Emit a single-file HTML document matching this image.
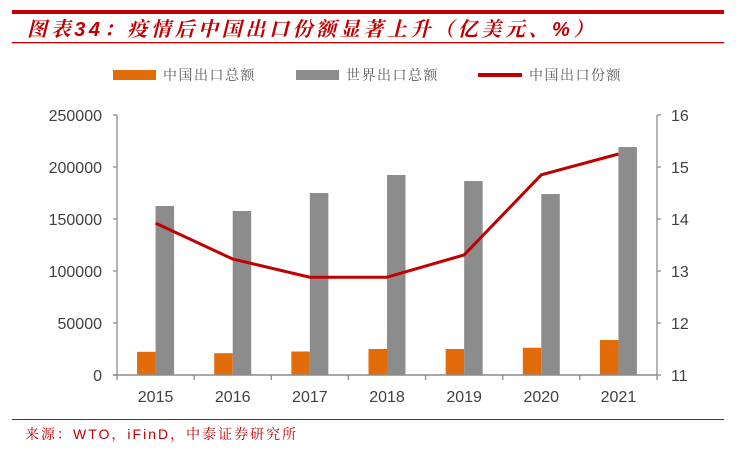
<!DOCTYPE html>
<html><head><meta charset="utf-8"><style>
html,body{margin:0;padding:0;background:#fff;}
body{width:739px;height:451px;overflow:hidden;position:relative;font-family:"Liberation Sans","Noto Sans CJK SC",sans-serif;}
</style></head><body>
<svg width="739" height="451" viewBox="0 0 739 451" xmlns="http://www.w3.org/2000/svg">
<rect x="12" y="10" width="712" height="4" fill="#c00000"/>
<text x="27" y="36" font-size="20" font-weight="bold" font-style="italic" fill="#c00000" letter-spacing="3.6" font-family="'Liberation Sans','Noto Serif CJK SC',serif">图表34：疫情后中国出口份额显著上升（亿美元、%）</text>
<rect x="12" y="42" width="712" height="1.3" fill="#c00000"/>
<g font-size="14" fill="#595959" letter-spacing="1.5" font-family="'Liberation Sans','Noto Serif CJK SC',serif">
<rect x="113" y="70" width="43" height="10" fill="#e36c0a"/>
<text x="163" y="80">中国出口总额</text>
<rect x="296" y="70" width="43" height="10" fill="#8c8c8c"/>
<text x="346" y="80">世界出口总额</text>
<rect x="478" y="73" width="44" height="4" fill="#c00000"/>
<text x="529" y="80">中国出口份额</text>
</g>
<g id="plot"></g>
<rect x="12" y="419" width="712" height="1" fill="#c00000"/>
<text x="25" y="439" font-size="14" fill="#c00000" letter-spacing="2" font-family="'Liberation Sans','Noto Serif CJK SC',serif">来源：WTO，iFinD，中泰证券研究所</text>
</svg>
<script>
const years=["2015","2016","2017","2018","2019","2020","2021"];
const chinaExports=[22300,21000,22600,25000,25000,26200,33600];
const worldExports=[162500,157700,175000,192300,186500,174000,219200];
const chinaShare=[13.92,13.23,12.88,12.88,13.31,14.85,15.25];
const leftTicks=[0,50000,100000,150000,200000,250000];
const rightTicks=[11,12,13,14,15,16];

const NS="http://www.w3.org/2000/svg";
const g=document.getElementById('plot');
const X0=117,X1=657,Y0=375,Y1=115;
const band=(X1-X0)/years.length;
const xc=i=>X0+band*(i+0.5);
const yL=v=>Y0-(v-0)/(250000-0)*(Y0-Y1);
const yR=v=>Y0-(v-11)/(16-11)*(Y0-Y1);
function mk(tag,attrs){const e=document.createElementNS(NS,tag);for(const k in attrs)e.setAttribute(k,attrs[k]);g.appendChild(e);return e;}
const axisCol="#8c8c8c";
let a=mk('line',{x1:X0,y1:Y1,x2:X0,y2:Y0,stroke:axisCol,'stroke-width':1.3});


a=mk('line',{x1:X1,y1:Y1,x2:X1,y2:Y0,stroke:axisCol,'stroke-width':1.3});


leftTicks.forEach(v=>{
  const y=yL(v);
  const t=mk('line',{x1:X0-4,y1:y,x2:X0,y2:y,stroke:axisCol,'stroke-width':1.3});
  
  
  const l=mk('text',{x:X0-15,y:y+6,'text-anchor':'end','font-size':16,fill:'#404040'});
  l.textContent=v;
  
  
});
rightTicks.forEach(v=>{
  const y=yR(v);
  const t=mk('line',{x1:X1,y1:y,x2:X1+4,y2:y,stroke:axisCol,'stroke-width':1.3});
  
  
  const l=mk('text',{x:X1+14,y:y+6,'font-size':16,fill:'#404040'});
  l.textContent=v;
  
  
});
const bw=18.5;
years.forEach((yr,i)=>{
  const c=xc(i);
  const b1=mk('rect',{x:c-bw,y:yL(chinaExports[i]),width:bw,height:Y0-yL(chinaExports[i]),fill:'#e36c0a'});
  
  
  const b2=mk('rect',{x:c,y:yL(worldExports[i]),width:bw,height:Y0-yL(worldExports[i]),fill:'#8c8c8c'});
  
  
  const l=mk('text',{x:c,y:Y0+27,'text-anchor':'middle','font-size':16,fill:'#404040'});
  l.textContent=yr;
  
  
});
for(let i=0;i<=years.length;i++){
  const x=X0+band*i;
  const t=mk('line',{x1:x,y1:Y0,x2:x,y2:Y0+5,stroke:axisCol,'stroke-width':1.3});
  
  
}
a=mk('line',{x1:X0-4,y1:Y0,x2:X1,y2:Y0,stroke:axisCol,'stroke-width':1.5});


const pts=chinaShare.map((v,i)=>xc(i)+','+yR(v)).join(' ');
const pl=mk('polyline',{points:pts,fill:'none',stroke:'#c00000','stroke-width':3,'stroke-linejoin':'round'});


</script>
</body></html>
